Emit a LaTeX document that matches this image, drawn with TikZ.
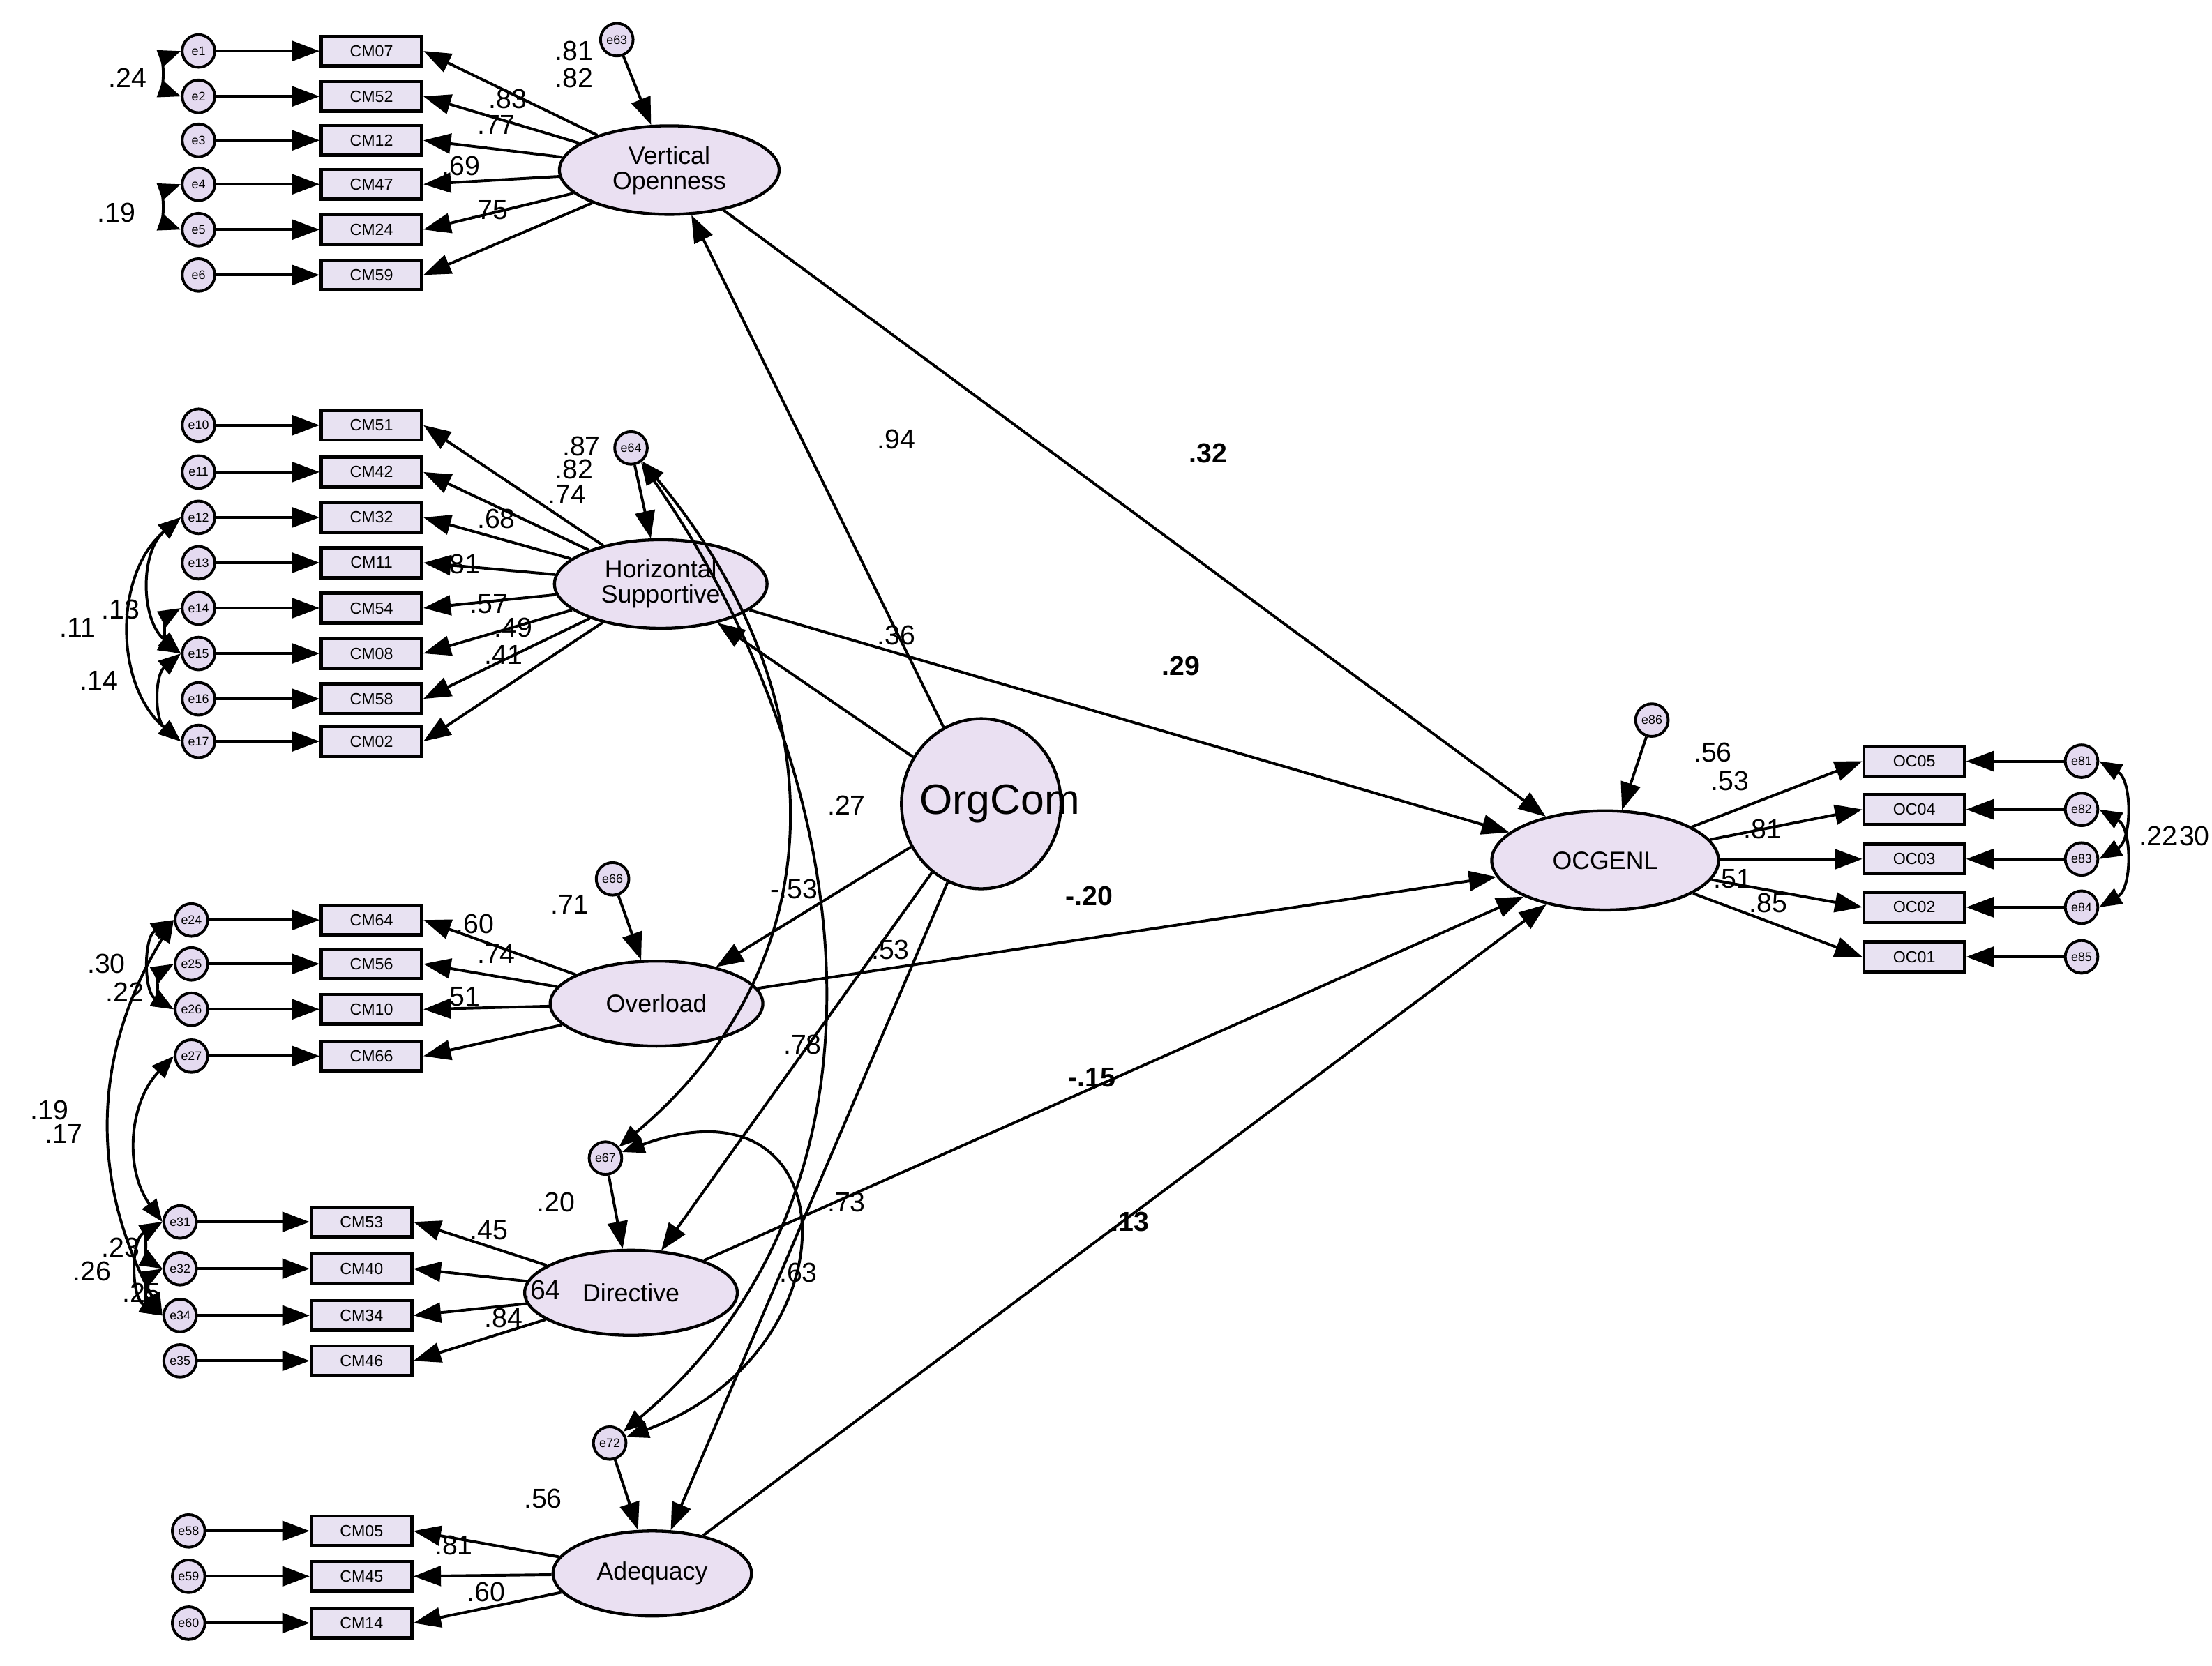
\documentclass[tikz,border=0pt]{standalone}
\usepackage{fontspec}
\setmainfont{Liberation Sans}
\usetikzlibrary{shapes.geometric,arrows.meta}
\definecolor{boxfill}{RGB}{232,226,242}
\definecolor{latfill}{RGB}{234,224,242}
\definecolor{errfill}{RGB}{228,218,240}
\tikzset{
  ind/.style={draw,line width=1.3pt,fill=boxfill,minimum width=1.42cm,minimum height=0.42cm,inner sep=0pt,font=\fontsize{6.5}{6.5}\selectfont},
  err/.style={circle,draw,line width=1.1pt,fill=errfill,minimum size=0.46cm,inner sep=0pt,font=\fontsize{5}{5}\selectfont},
  lat/.style={ellipse,draw,line width=1.2pt,fill=latfill,inner sep=0pt,align=center,font=\fontsize{10}{10}\selectfont},
  path/.style={line width=1.1pt,-{Triangle[length=11pt,width=8pt]}},
  cov/.style={line width=1.1pt,{Triangle[length=9pt,width=7pt]}-{Triangle[length=9pt,width=7pt]}},
  lab/.style={font=\fontsize{11}{11}\selectfont,inner sep=0pt},
  blab/.style={font=\bfseries\fontsize{11}{11}\selectfont,inner sep=0pt}
}
\begin{document}
\begin{tikzpicture}[x=0.02cm,y=-0.02cm]
\useasboundingbox (0,0) rectangle (1560,1175);
% latent variables
\node[lat,minimum width=3.1cm,minimum height=1.25cm] (VO) at (472,120) {Vertical\\Openness};
\node[lat,minimum width=3.0cm,minimum height=1.25cm] (HS) at (466,412) {Horizontal\\Supportive};
\node[lat,minimum width=3.0cm,minimum height=1.2cm] (OL) at (463,708) {Overload};
\node[lat,minimum width=3.0cm,minimum height=1.2cm] (DI) at (445,912) {Directive};
\node[lat,minimum width=2.8cm,minimum height=1.2cm] (AD) at (460,1110) {Adequacy};
\node[lat,minimum width=2.25cm,minimum height=2.4cm] (OC) at (692,567) {};
\node[font=\fontsize{17}{17}\selectfont,inner sep=0pt] (OCt) at (705,567) {OrgCom};
\node[lat,minimum width=3.2cm,minimum height=1.4cm] (OG) at (1132,607) {OCGENL};
% residuals
\node[err] (e63) at (435,28) {e63};
\node[err] (e64) at (445,316) {e64};
\node[err] (e66) at (432,620) {e66};
\node[err] (e67) at (427,817) {e67};
\node[err] (e72) at (430,1018) {e72};
\node[err] (e86) at (1165,508) {e86};
\draw[path] (e63) -- (VO);
\draw[path] (e64) -- (HS);
\draw[path] (e66) -- (OL);
\draw[path] (e67) -- (DI);
\draw[path] (e72) -- (AD);
\draw[path] (e86) -- (OG);
% indicators
\foreach \n/\y/\e in {CM07/36/e1,CM52/68/e2,CM12/99/e3,CM47/130/e4,CM24/162/e5,CM59/194/e6}{
  \node[ind] (\n) at (262,\y) {\n};
  \node[err] (\e) at (140,\y) {\e};
  \draw[path] (\e) -- (\n);
  \draw[path] (VO) -- (\n.east);
}
\foreach \n/\y/\e in {CM51/300/e10,CM42/333/e11,CM32/365/e12,CM11/397/e13,CM54/429/e14,CM08/461/e15,CM58/493/e16,CM02/523/e17}{
  \node[ind] (\n) at (262,\y) {\n};
  \node[err] (\e) at (140,\y) {\e};
  \draw[path] (\e) -- (\n);
  \draw[path] (HS) -- (\n.east);
}
\foreach \n/\y/\e in {CM64/649/e24,CM56/680/e25,CM10/712/e26,CM66/745/e27}{
  \node[ind] (\n) at (262,\y) {\n};
  \node[err] (\e) at (135,\y) {\e};
  \draw[path] (\e) -- (\n);
  \draw[path] (OL) -- (\n.east);
}
\foreach \n/\y/\e in {CM53/862/e31,CM40/895/e32,CM34/928/e34,CM46/960/e35}{
  \node[ind] (\n) at (255,\y) {\n};
  \node[err] (\e) at (127,\y) {\e};
  \draw[path] (\e) -- (\n);
  \draw[path] (DI) -- (\n.east);
}
\foreach \n/\y/\e in {CM05/1080/e58,CM45/1112/e59,CM14/1145/e60}{
  \node[ind] (\n) at (255,\y) {\n};
  \node[err] (\e) at (133,\y) {\e};
  \draw[path] (\e) -- (\n);
  \draw[path] (AD) -- (\n.east);
}
\foreach \n/\y/\e in {OC05/537/e81,OC04/571/e82,OC03/606/e83,OC02/640/e84,OC01/675/e85}{
  \node[ind] (\n) at (1350,\y) {\n};
  \node[err] (\e) at (1468,\y) {\e};
  \draw[path] (\e) -- (\n);
  \draw[path] (OG) -- (\n.west);
}
% structural paths
\draw[path] (OC) -- (VO);
\draw[path] (OC) -- (HS);
\draw[path] (OC) -- (OL);
\draw[path] (OC) -- (DI);
\draw[path] (OC) -- (AD);
\draw[path] (VO) -- (OG);
\draw[path] (HS) -- (OG);
\draw[path] (OL) -- (OG);
\draw[path] (DI) -- (OG);
\draw[path] (AD) -- (OG);
% residual covariances
\draw[cov] (e64) to[out=-50,in=40,looseness=1.1] (e67);
\draw[cov] (e64) to[out=-55,in=40,looseness=1] (e72);
\draw[cov] (e67) to[out=20,in=20,looseness=2.2] (e72);
% error covariances
\draw[cov] (e1.west) to[bend right=70] (e2.west);
\draw[cov] (e4.west) to[bend right=70] (e5.west);
\draw[cov] (e12.west) to[bend right=50] (e15.west);
\draw[cov] (e14.west) to[bend right=60] (e15.west);
\draw[cov] (e12.west) to[bend right=50] (e17.west);
\draw[cov] (e15.west) to[bend right=50] (e17.west);
\draw[cov] (e24.west) to[bend right=60] (e26.west);
\draw[cov] (e25.west) to[bend right=60] (e26.west);
\draw[cov] (e24.west) to[bend right=30] (e34.west);
\draw[cov] (e27.west) to[bend right=40] (e31.west);
\draw[cov] (e31.west) to[bend right=60] (e34.west);
\draw[cov] (e32.west) to[bend right=60] (e34.west);
\draw[cov] (e31.west) to[bend right=60] (e32.west);
\draw[cov] (e81.east) to[bend left=60] (e83.east);
\draw[cov] (e82.east) to[bend left=60] (e84.east);
% loadings
\node[lab] at (405,36) {.81}; \node[lab] at (405,55) {.82};
\node[lab] at (358,70) {.83}; \node[lab] at (350,88) {.77};
\node[lab] at (325,117) {.69}; \node[lab] at (345,148) {.75};
\node[lab] at (410,315) {.87}; \node[lab] at (405,331) {.82};
\node[lab] at (400,349) {.74}; \node[lab] at (350,366) {.68};
\node[lab] at (325,398) {.81}; \node[lab] at (345,426) {.57};
\node[lab] at (362,443) {.49}; \node[lab] at (355,462) {.41};
\node[lab] at (402,638) {.71}; \node[lab] at (335,652) {.60};
\node[lab] at (350,673) {.74}; \node[lab] at (325,703) {.51};
\node[lab] at (345,868) {.45}; \node[lab] at (392,848) {.20};
\node[lab] at (382,910) {.64}; \node[lab] at (355,930) {.84};
\node[lab] at (383,1057) {.56}; \node[lab] at (320,1090) {.81};
\node[lab] at (343,1123) {.60};
\node[lab] at (1208,531) {.56}; \node[lab] at (1220,551) {.53};
\node[lab] at (1243,585) {.81}; \node[lab] at (1222,620) {.51};
\node[lab] at (1247,637) {.85};
\node[lab] at (1522,590) {.22}; \node[lab] at (1545,590) {.30};
% structural labels
\node[lab] at (632,310) {.94}; \node[lab] at (632,448) {.36};
\node[lab] at (597,568) {.27}; \node[lab] at (560,627) {-.53};
\node[lab] at (628,670) {.53}; \node[lab] at (566,737) {.78};
\node[lab] at (597,848) {.73}; \node[lab] at (563,898) {.63};
\node[blab] at (852,320) {.32}; \node[blab] at (833,470) {.29};
\node[blab] at (768,632) {-.20}; \node[blab] at (770,760) {-.15};
\node[blab] at (797,862) {.13};
% covariance labels
\node[lab] at (90,55) {.24}; \node[lab] at (82,150) {.19};
\node[lab] at (85,430) {.13}; \node[lab] at (55,443) {.11};
\node[lab] at (70,480) {.14}; \node[lab] at (75,680) {.30};
\node[lab] at (88,700) {.22}; \node[lab] at (35,783) {.19};
\node[lab] at (45,800) {.17}; \node[lab] at (85,880) {.23};
\node[lab] at (65,897) {.26}; \node[lab] at (100,912) {.25};
\end{tikzpicture}
\end{document}
